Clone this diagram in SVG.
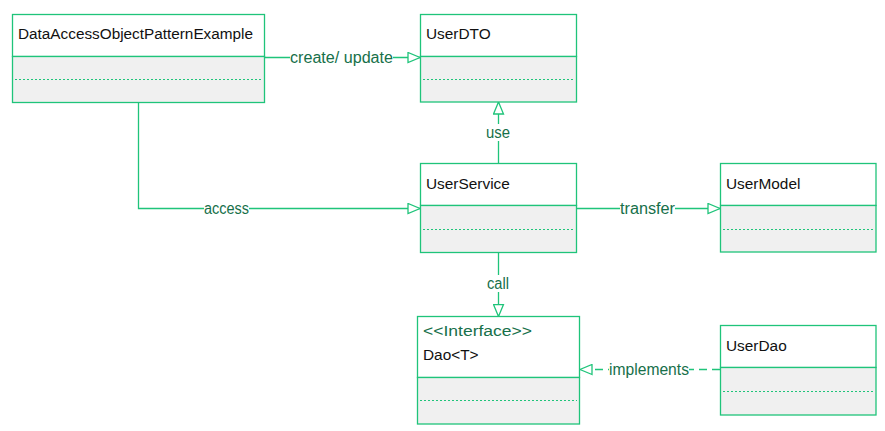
<svg xmlns="http://www.w3.org/2000/svg" width="885" height="431" viewBox="0 0 885 431">
<style>
.box{fill:#ffffff;stroke:#1fc47a;stroke-width:1.3}
.comp{fill:#f0f0f0;stroke:#1fc47a;stroke-width:1.3}
.dash{stroke:#1fc47a;stroke-width:1;stroke-dasharray:2,2;fill:none}
.name{font-family:"Liberation Sans",Arial,sans-serif;font-size:15.4px;fill:#111111}
.stereo{font-family:"Liberation Sans",Arial,sans-serif;font-size:15.4px;fill:#17704a}
.edge{stroke:#1fc47a;stroke-width:1.3;fill:none}
.lbl{font-family:"Liberation Sans",Arial,sans-serif;font-size:15.6px;fill:#17704a}
.lblbg{fill:#ffffff}
</style>
<defs>
<marker id="tri" viewBox="0 0 14 12" refX="13" refY="6" markerWidth="14" markerHeight="12" markerUnits="userSpaceOnUse" orient="auto">
<path d="M1,1 L13,6 L1,11 Z" fill="#ffffff" stroke="#1fc47a" stroke-width="1.3"/>
</marker>
</defs>
<rect width="885" height="431" fill="#ffffff"/>
<g id="connectors">
<path class="edge" d="M264.5,57.5 H420" marker-end="url(#tri)"/>
<rect class="lblbg" x="290" y="49" width="103" height="17"/>
<text class="lbl" x="290" y="63" textLength="103" lengthAdjust="spacingAndGlyphs">create/ update</text>

<path class="edge" d="M498.5,163 V102" marker-end="url(#tri)"/>
<rect class="lblbg" x="486" y="124" width="24" height="17"/>
<text class="lbl" x="486" y="138" textLength="24" lengthAdjust="spacingAndGlyphs">use</text>

<path class="edge" d="M138.5,102.5 V208.5 H420" marker-end="url(#tri)"/>
<rect class="lblbg" x="204" y="200" width="45" height="17"/>
<text class="lbl" x="204" y="214" textLength="45" lengthAdjust="spacingAndGlyphs">access</text>

<path class="edge" d="M576,208.5 H720" marker-end="url(#tri)"/>
<rect class="lblbg" x="620" y="200" width="55" height="17"/>
<text class="lbl" x="620" y="214" textLength="55" lengthAdjust="spacingAndGlyphs">transfer</text>

<path class="edge" d="M498.5,253 V316.5" marker-end="url(#tri)"/>
<rect class="lblbg" x="487" y="275" width="22" height="17"/>
<text class="lbl" x="487" y="289" textLength="22" lengthAdjust="spacingAndGlyphs">call</text>

<path class="edge" d="M720,369.5 H580" stroke-dasharray="8,5" marker-end="url(#tri)"/>
<rect class="lblbg" x="609" y="361" width="80" height="17"/>
<text class="lbl" x="609" y="375" textLength="80" lengthAdjust="spacingAndGlyphs">implements</text>
</g>
<g id="DataAccessObjectPatternExample">
<rect class="box" x="12.5" y="14.5" width="252" height="42"/>
<rect class="comp" x="12.5" y="56.5" width="252" height="46"/>
<line class="dash" x1="15" y1="79.5" x2="262" y2="79.5"/>
<text class="name" x="18" y="39" textLength="235" lengthAdjust="spacingAndGlyphs">DataAccessObjectPatternExample</text>
</g>
<g id="UserDTO">
<rect class="box" x="420.5" y="14.5" width="156" height="42"/>
<rect class="comp" x="420.5" y="56.5" width="156" height="45.5"/>
<line class="dash" x1="423" y1="79.5" x2="574" y2="79.5"/>
<text class="name" x="426" y="39">UserDTO</text>
</g>
<g id="UserService">
<rect class="box" x="420.5" y="163.5" width="156" height="42"/>
<rect class="comp" x="420.5" y="205.5" width="156" height="47"/>
<line class="dash" x1="423" y1="229.5" x2="574" y2="229.5"/>
<text class="name" x="426" y="189">UserService</text>
</g>
<g id="UserModel">
<rect class="box" x="720.5" y="163.5" width="155.5" height="42"/>
<rect class="comp" x="720.5" y="205.5" width="155.5" height="46.5"/>
<line class="dash" x1="723" y1="229.5" x2="874" y2="229.5"/>
<text class="name" x="726" y="189">UserModel</text>
</g>
<g id="Dao">
<rect class="box" x="417.5" y="316.5" width="162" height="61"/>
<rect class="comp" x="417.5" y="377.5" width="162" height="46.5"/>
<line class="dash" x1="420" y1="400.5" x2="577" y2="400.5"/>
<text class="stereo" x="423" y="336" textLength="109" lengthAdjust="spacingAndGlyphs">&lt;&lt;Interface&gt;&gt;</text>
<text class="name" x="423" y="360">Dao&lt;T&gt;</text>
</g>
<g id="UserDao">
<rect class="box" x="720.5" y="325.5" width="155.5" height="42"/>
<rect class="comp" x="720.5" y="367.5" width="155.5" height="47.5"/>
<line class="dash" x1="723" y1="391.5" x2="874" y2="391.5"/>
<text class="name" x="726" y="351">UserDao</text>
</g>
</svg>
